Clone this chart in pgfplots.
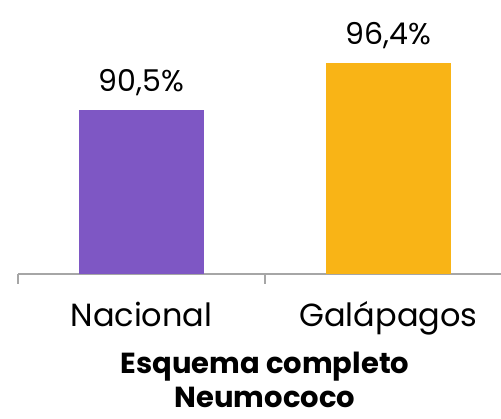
\documentclass[border=0pt]{standalone}
\usepackage{fontspec}
\setmainfont{Poppins}
\usepackage{pgfplots}
\pgfplotsset{compat=1.18}
\definecolor{cpurple}{HTML}{7E57C4}
\definecolor{cgold}{HTML}{F9B416}
\definecolor{caxis}{HTML}{A6A6A6}
\begin{document}
\begin{tikzpicture}[x=1pt,y=1pt]
\begin{axis}[
  at={(18pt,145pt)}, anchor=south west,
  scale only axis, width=494pt, height=274pt,
  xmin=-0.5, xmax=1.5, ymin=70, ymax=104.25,
  axis lines=none,
  clip=false,
  xtick=\empty, ytick=\empty,
  bar width=125pt,
  point meta=explicit symbolic,
  nodes near coords,
  every node near coord/.append style={font=\fontsize{30}{32}\selectfont, anchor=base, inner sep=0pt, yshift=18pt},
]
\draw[caxis, line width=1.2pt] (axis cs:-0.5,70) -- (axis cs:1.5,70);
\draw[caxis, line width=1.2pt] (axis cs:-0.5,70) -- ++(0pt,-10pt);
\draw[caxis, line width=1.2pt] (axis cs:0.5,70) -- ++(0pt,-10pt);
\draw[caxis, line width=1.2pt] (axis cs:1.5,70) -- ++(0pt,-10pt);
\addplot[ybar, fill=cpurple, draw=none] coordinates {(0,90.5) [90,5\%]};
\addplot[ybar, fill=cgold, draw=none] coordinates {(1,96.4) [96,4\%]};
\coordinate (lab0) at (axis cs:0,70);
\coordinate (lab1) at (axis cs:1,70);
\coordinate (labm) at (axis cs:0.5,70);
\end{axis}
\node[anchor=base, font=\fontsize{32}{34}\selectfont, inner sep=0pt] at ([yshift=-53pt]lab0) {Nacional};
\node[anchor=base, font=\fontsize{32}{34}\selectfont, inner sep=0pt] at ([yshift=-53pt]lab1) {Galápagos};
\node[anchor=base, font=\fontsize{29}{31}\selectfont\bfseries, inner sep=0pt] at ([yshift=-100pt]labm) {Esquema completo};
\node[anchor=base, font=\fontsize{29}{31}\selectfont\bfseries, inner sep=0pt] at ([yshift=-134pt]labm) {Neumococo};
\pgfresetboundingbox
\path[use as bounding box] (0,0) rectangle (501,419);
\end{tikzpicture}
\end{document}
